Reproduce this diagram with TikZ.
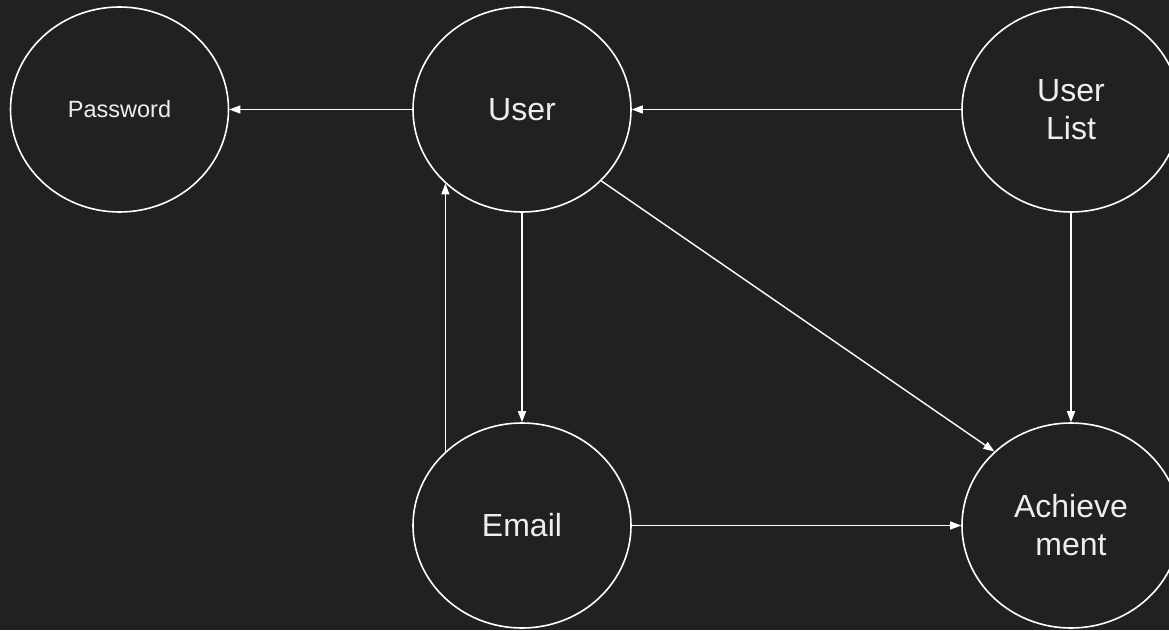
\documentclass[tikz,border=0pt]{standalone}
\usepackage{fontspec}
\setmainfont{Liberation Sans}
\usepackage{tikz}
\usetikzlibrary{shapes.geometric, arrows.meta, positioning, calc}

\definecolor{bgdark}{HTML}{212121}
\definecolor{txtlight}{HTML}{EEEEEE}

\begin{document}
\begin{tikzpicture}[x=1pt, y=1pt,
	ent/.style={ellipse, draw=white, line width=1.6pt, minimum width=218pt, minimum height=205pt, inner sep=0pt, align=center, text=txtlight, font=\fontsize{32}{38}\selectfont},
	arr/.style={draw=white, line width=1.4pt, -{Triangle[length=11pt, width=8pt]}}]
	
	%//background, same size as the picture
	\fill[bgdark] (0,0) rectangle (1169,630);
	\useasboundingbox (0,0) rectangle (1169,630);
	
	%//top row
	\node [ent, font=\fontsize{23.5}{28}\selectfont] (password) at (119.5, 520.5) {Password};
	\node [ent] (user) at (522, 520.5) {User};
	\node [ent] (userlist) at (1071, 520.5) {User\\List};
	
	%//bottom row
	\node [ent] (email) at (522, 104.5) {Email};
	\node [ent] (achievement) at (1071, 104.5) {Achieve\\ment};
	
	\draw[arr] (user) -- (password);
	\draw[arr] (userlist) -- (user);
	\draw[arr] (user) -- (email);
	\draw[arr] (email.136) -- (user.224);
	\draw[arr] (user.-42.9) -- (achievement.136.7);
	\draw[arr] (userlist) -- (achievement);
	\draw[arr] (email) -- (achievement);
\end{tikzpicture}
\end{document}
